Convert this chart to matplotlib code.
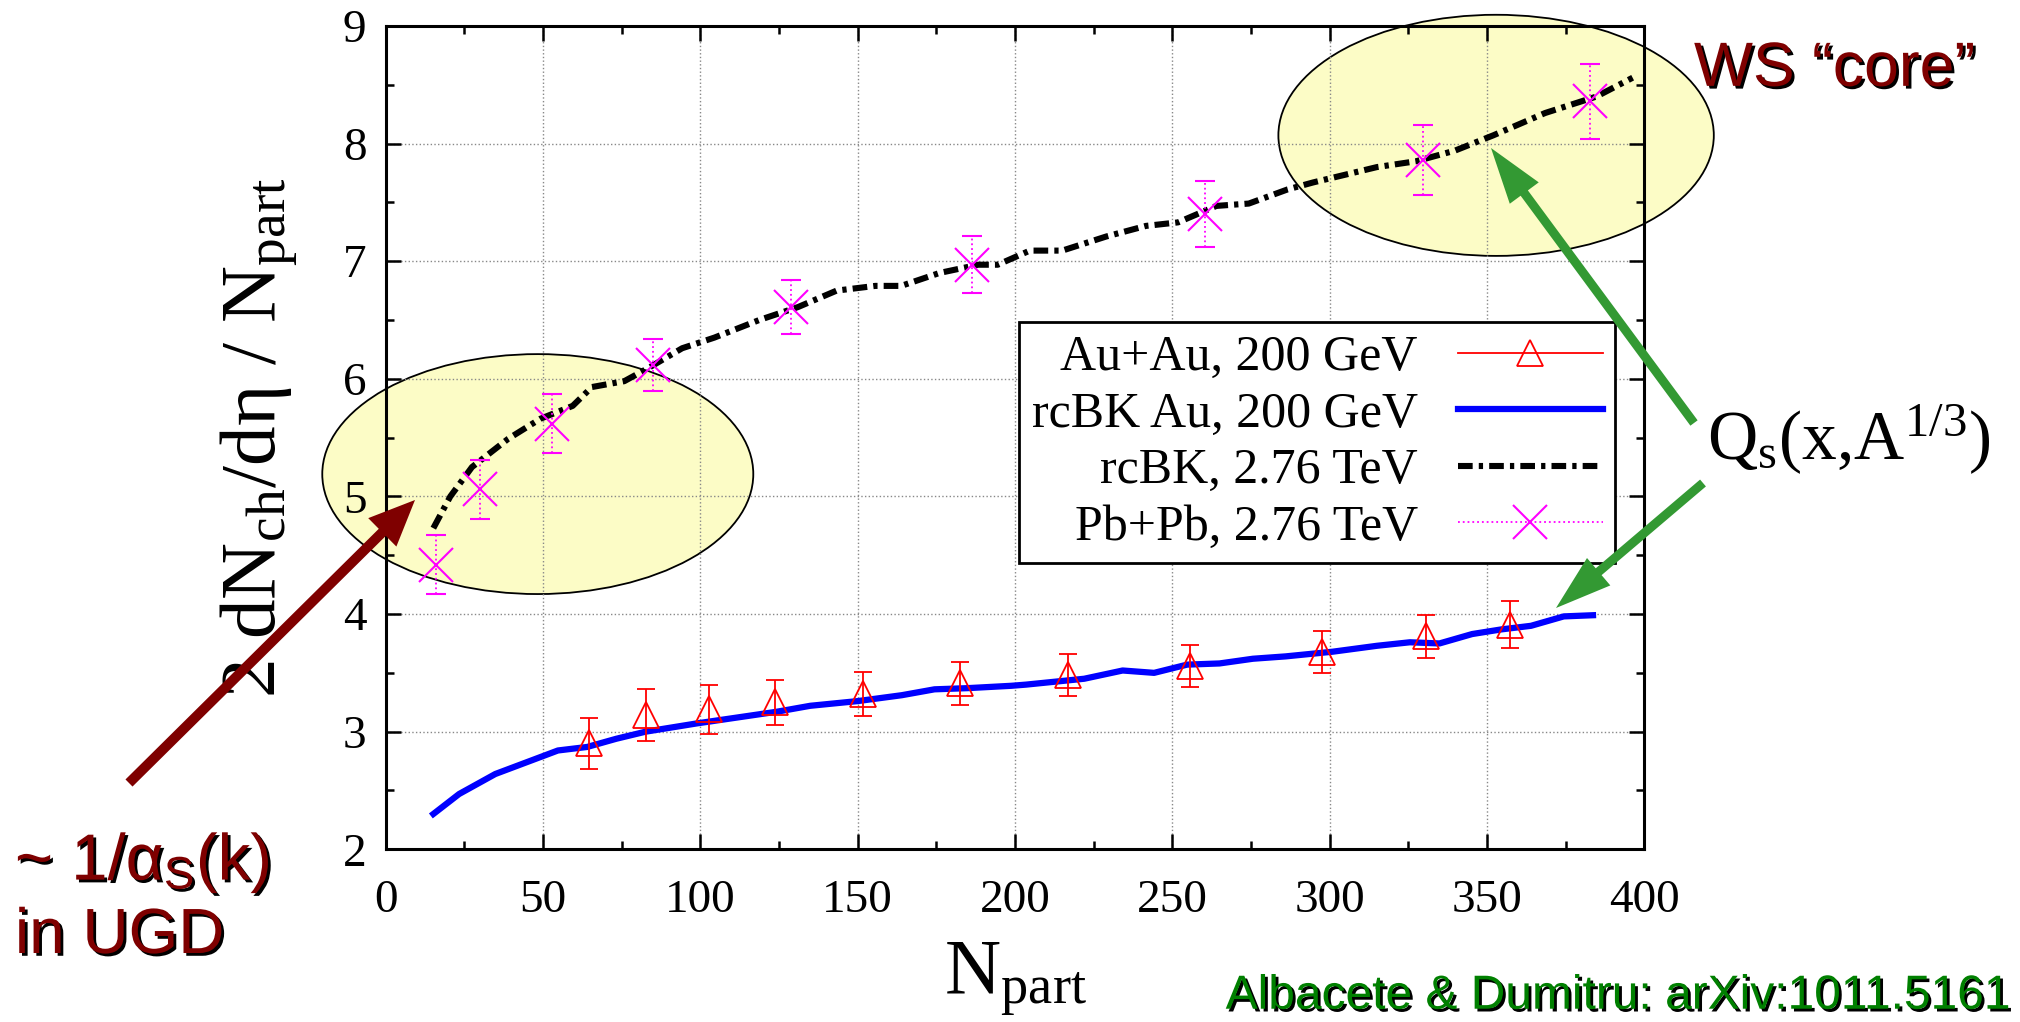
import matplotlib
matplotlib.use("Agg")
import matplotlib.pyplot as plt
import matplotlib.patheffects as pe
from matplotlib.patches import Ellipse, FancyArrow
from matplotlib.lines import Line2D
from matplotlib.transforms import IdentityTransform
import numpy as np

plt.rcParams['font.family'] = ['Liberation Serif', 'DejaVu Serif']
plt.rcParams['mathtext.fontset'] = 'custom'
plt.rcParams['mathtext.rm'] = 'Liberation Serif'
plt.rcParams['mathtext.it'] = 'Liberation Serif:italic'
plt.rcParams['mathtext.sf'] = 'Liberation Sans'

# Au+Au 200 GeV data
auau_npart = [64.7, 82.8, 102.8, 123.7, 151.6, 182.6, 216.7, 255.6, 297.7, 330.5, 357.4]
auau_val = [2.90, 3.14, 3.19, 3.25, 3.32, 3.41, 3.48, 3.56, 3.68, 3.81, 3.91]
auau_err = [0.22, 0.22, 0.21, 0.19, 0.19, 0.18, 0.18, 0.18, 0.18, 0.18, 0.20]

# Pb+Pb 2.76 TeV data
pbpb_npart = [15.8, 30.0, 52.8, 85.0, 128.9, 186.4, 260.5, 329.7, 382.8]
pbpb_val = [4.42, 5.06, 5.62, 6.12, 6.61, 6.97, 7.40, 7.86, 8.36]
pbpb_err = [0.25, 0.25, 0.25, 0.22, 0.23, 0.24, 0.28, 0.30, 0.32]

# rcBK Au, 200 GeV
bk_au_npart = [15.1, 23.3, 34.8, 54.7, 64.0, 73.3, 82.6, 98.8, 124.4, 134.9, 150.0,
               164.0, 174.4, 184.9, 198.8, 203.5, 222.0, 234.2, 244.2, 254.7, 265.0,
               275.6, 286.0, 301.0, 315.0, 325.5, 334.9, 345.3, 354.7, 364.0, 374.4, 383.7]
bk_au_val = [2.30, 2.47, 2.64, 2.84, 2.87, 2.94, 3.00, 3.07, 3.17, 3.22, 3.26,
             3.31, 3.36, 3.37, 3.39, 3.40, 3.45, 3.52, 3.50, 3.57, 3.58,
             3.62, 3.64, 3.68, 3.73, 3.76, 3.75, 3.83, 3.87, 3.90, 3.98, 3.99]

# rcBK, 2.76 TeV
bk_lhc_npart = [15.1, 20.5, 27.4, 38.9, 49.1, 59.4, 65.5, 75.8, 84.0, 94.2, 104.4,
                118.7, 131.0, 143.3, 155.6, 163.8, 176.0, 188.3, 194.5, 204.7, 215.0,
                229.0, 241.6, 251.8, 264.0, 274.3, 286.6, 294.8, 315.0, 327.5, 339.8,
                352.0, 368.5, 384.8, 396.3]
bk_lhc_val = [4.73, 5.00, 5.25, 5.49, 5.66, 5.77, 5.93, 5.98, 6.10, 6.26, 6.35,
              6.50, 6.61, 6.75, 6.79, 6.79, 6.90, 6.97, 6.97, 7.09, 7.09,
              7.21, 7.30, 7.33, 7.47, 7.49, 7.61, 7.67, 7.80, 7.85, 7.94,
              8.07, 8.26, 8.40, 8.56]

fig = plt.figure(figsize=(20.2, 10.22), dpi=100)
ax = fig.add_axes([0.191, 0.169, 0.623, 0.8056])

# highlight ellipses
ax.add_patch(Ellipse((48.3, 5.19), 137, 2.04, facecolor='#fcfcc6', edgecolor='black',
                     lw=1.3, zorder=0.5, clip_on=False))
ax.add_patch(Ellipse((352.9, 8.07), 138.4, 2.05, facecolor='#fcfcc6', edgecolor='black',
                     lw=1.3, zorder=0.5, clip_on=False))

dashdot = (0, (2.4, 1.0, 0.7, 1.0))
ax.plot(bk_au_npart, bk_au_val, color='#0000ff', lw=4.5, zorder=3)
ax.plot(bk_lhc_npart, bk_lhc_val, color='black', lw=4.4, ls=dashdot,
        dash_capstyle='butt', zorder=3)

eb = ax.errorbar(auau_npart, auau_val, yerr=auau_err, fmt='^', ms=19, mfc='none',
                 mec='red', mew=1.3, ecolor='red', elinewidth=1.3, capsize=6.5,
                 capthick=1.3, zorder=4)
eb2 = ax.errorbar(pbpb_npart, pbpb_val, yerr=pbpb_err, fmt='x', ms=25, mec='magenta',
                  mew=1.5, ecolor='magenta', elinewidth=1.3, capsize=7.5,
                  capthick=1.3, zorder=4)
eb2[2][0].set_linestyle(':')

ax.set_xlim(0, 400)
ax.set_ylim(2, 9)
ax.set_xticks(np.arange(0, 401, 50))
ax.set_yticks(np.arange(2, 10, 1))
ax.set_xticks(np.arange(25, 400, 50), minor=True)
ax.set_yticks(np.arange(2.5, 9, 1), minor=True)
ax.tick_params(which='both', direction='in', top=True, right=True, width=1.8)
ax.tick_params(which='major', length=11, labelsize=34)
ax.tick_params(which='minor', length=5.5)
ax.tick_params(axis='x', pad=22)
ax.tick_params(axis='y', pad=14)
ax.grid(True, which='major', color='#888888', ls=':', lw=1.0)
for s in ax.spines.values():
    s.set_linewidth(2.2)

ax.set_xlabel(r'N$_{\mathrm{part}}$', fontsize=56)
ax.xaxis.set_label_coords(0.5, -0.11)
ax.set_ylabel(r'2 dN$_{\mathrm{ch}}$/dη / N$_{\mathrm{part}}$', fontsize=57)
ax.yaxis.set_label_coords(-0.068, 0.5)

handles = [
    Line2D([], [], color='red', lw=1.3, marker='^', ms=19, mfc='none', mew=1.3),
    Line2D([], [], color='#0000ff', lw=4.5),
    Line2D([], [], color='black', lw=4.4, ls=dashdot),
    Line2D([], [], color='magenta', lw=1.3, ls=':', marker='x', ms=25, mew=1.5),
]
labels = ['Au+Au, 200 GeV', 'rcBK Au, 200 GeV', 'rcBK, 2.76 TeV', 'Pb+Pb, 2.76 TeV']
leg = ax.legend(handles, labels, loc='upper right', bbox_to_anchor=(0.977, 0.640),
                fontsize=36, markerfirst=False, handlelength=2.9, fancybox=False,
                framealpha=1, edgecolor='black', borderpad=0.25, labelspacing=0.2,
                handletextpad=0.8, borderaxespad=0)
leg.get_frame().set_linewidth(2)
for t in leg.get_texts():
    t.set_ha('right')
leg._legend_box.align = 'right'

shadow = [pe.SimplePatchShadow(offset=(2, -2), shadow_rgbFace='black', alpha=1),
          pe.Normal()]
fig.text(0.8386, 0.916, 'WS “core”', fontsize=45, family='Liberation Sans',
         color='#7f0000', path_effects=shadow)
fig.text(0.0074, 0.139, r'~ 1/α$_{\mathsf{S}}$(k)', fontsize=47, family='Liberation Sans',
         color='#7f0000', path_effects=shadow)
fig.text(0.0074, 0.0675, 'in UGD', fontsize=46, family='Liberation Sans',
         color='#7f0000', path_effects=shadow)
fig.text(0.995, 0.013, 'Albacete & Dumitru: arXiv:1011.5161', fontsize=34.5,
         family='Liberation Sans', color='#008000', ha='right', path_effects=shadow)
fig.text(0.845, 0.55, r'Q$_{\mathrm{s}}$(x,A$^{\mathrm{1/3}}$)', fontsize=50, color='black')

# arrows in figure pixels
arrows = [
    ((129, 239), (415, 522), '#7f0000', 10, 40, 46),
    ((1694, 599), (1491, 874), '#339933', 9, 36, 56),
    ((1703, 539), (1556, 414), '#339933', 9, 36, 56),
]
for (x0, y0), (x1, y1), col, w, hw, hl in arrows:
    a = FancyArrow(x0, y0, x1 - x0, y1 - y0, width=w, head_width=hw, head_length=hl,
                   length_includes_head=True, color=col, lw=0,
                   transform=IdentityTransform(), zorder=10)
    fig.add_artist(a)

fig.savefig('out.png', dpi=100)
